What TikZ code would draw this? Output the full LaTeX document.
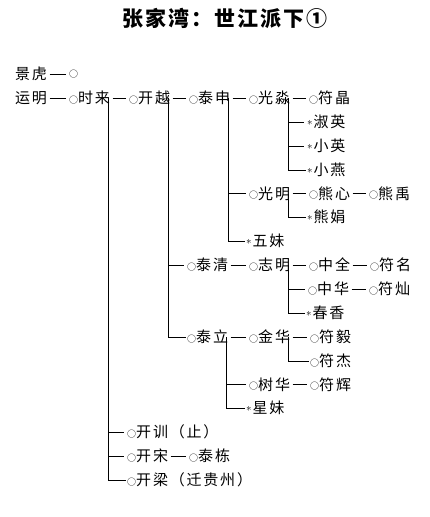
\documentclass[tikz,border=0pt]{standalone}
\usepackage{fontspec}
\newfontfamily\namefont{Noto Sans CJK SC}[LetterSpace=12]
\newfontfamily\titlefont{Noto Sans CJK SC}[LetterSpace=10]
\newcommand{\ring}{\raisebox{0.5pt}{\fontsize{9}{9}\selectfont ○}}
\newcommand{\fem}{\raisebox{2.2pt}{\fontsize{11}{11}\selectfont$\ast$}\hspace{1pt}}

\begin{document}
\begin{tikzpicture}[x=1pt, y=-1pt,
  person/.style={anchor=west, inner sep=1pt, font=\namefont\fontsize{15}{17}\selectfont},
  link/.style={line width=0.7pt, shorten <=1.5pt, shorten >=2pt},
  trunk/.style={line width=0.9pt}
]
\useasboundingbox (0,0) rectangle (430,517);

%% ---- title ----
\node[font=\titlefont\fontsize{21}{23}\selectfont\bfseries] (title) at (225,18) {张家湾：世江派下①};

%% ---- first generations ----
\node[person] (jinghu)    at (14,74)  {景虎};
\node[person] (jinghuo)   at (68,74)  {\ring};
\node[person] (yunming)   at (14,98)  {运明};
\node[person] (shilai)    at (68,98)  {\ring 时来};
\node[person] (kaiyue)    at (128,98) {\ring 开越};

%% ---- taishen branch ----
\node[person] (taishen)   at (188,98)    {\ring 泰申};
\node[person] (guangmiao) at (248,98)    {\ring 光淼};
\node[person] (fujing)    at (308,98)    {\ring 符晶};
\node[person] (shuying)   at (306,122)   {\fem 淑英};
\node[person] (xiaoying)  at (306,146)   {\fem 小英};
\node[person] (xiaoyan)   at (306,170)   {\fem 小燕};
\node[person] (guangming) at (248,193.5) {\ring 光明};
\node[person] (xiongxin)  at (308,193.5) {\ring 熊心};
\node[person] (xiongyu)   at (368,193.5) {\ring 熊禹};
\node[person] (xiongjuan) at (306,217)   {\fem 熊娟};
\node[person] (wumei)     at (245,241)   {\fem 五妹};

%% ---- taiqing branch ----
\node[person] (taiqing)   at (186,265) {\ring 泰清};
\node[person] (zhiming)   at (248,265) {\ring 志明};
\node[person] (zhongquan) at (308,265) {\ring 中全};
\node[person] (fuming)    at (369,265) {\ring 符名};
\node[person] (zhonghua)  at (307,289) {\ring 中华};
\node[person] (fucan)     at (368,289) {\ring 符灿};
\node[person] (chunxiang) at (305,313) {\fem 春香};

%% ---- taili branch ----
\node[person] (taili)   at (186,337)   {\ring 泰立};
\node[person] (jinhua)  at (248,337)   {\ring 金华};
\node[person] (fuyi)    at (309,337)   {\ring 符毅};
\node[person] (fujie)   at (309,361)   {\ring 符杰};
\node[person] (shuhua)  at (248,384.5) {\ring 树华};
\node[person] (fuhui)   at (309,384.5) {\ring 符辉};
\node[person] (xingmei) at (245,408)   {\fem 星妹};

%% ---- other sons of shilai ----
\node[person] (kaixun)   at (126,432) {\ring 开训（止）};
\node[person] (kaisong)  at (126,456) {\ring 开宋};
\node[person] (taidong)  at (188,456) {\ring 泰栋};
\node[person] (kailiang) at (126,480) {\ring 开梁（迁贵州）};

%% ---- trunk points ----
\coordinate (shilaiT)    at ([xshift=-3pt]shilai.east);
\coordinate (kaiyueT)    at ([xshift=-3pt]kaiyue.east);
\coordinate (taishenT)   at ([xshift=-3pt]taishen.east);
\coordinate (guangmiaoT) at ([xshift=-3pt]guangmiao.east);
\coordinate (guangmingT) at ([xshift=-3pt]guangming.east);
\coordinate (zhimingT)   at ([xshift=-3pt]zhiming.east);
\coordinate (tailiT)     at ([xshift=-3pt]taili.east);
\coordinate (jinhuaT)    at ([xshift=-3pt]jinhua.east);

%% ---- same-row links ----
\draw[link] (jinghu.east)    -- (jinghuo.west);
\draw[link] (yunming.east)   -- (shilai.west);
\draw[link] (shilai.east)    -- (kaiyue.west);
\draw[link] (kaiyue.east)    -- (taishen.west);
\draw[link] (taishen.east)   -- (guangmiao.west);
\draw[link] (guangmiao.east) -- (fujing.west);
\draw[link] (guangming.east) -- (xiongxin.west);
\draw[link] (xiongxin.east)  -- (xiongyu.west);
\draw[link] (taiqing.east)   -- (zhiming.west);
\draw[link] (zhiming.east)   -- (zhongquan.west);
\draw[link] (zhongquan.east) -- (fuming.west);
\draw[link] (zhonghua.east)  -- (fucan.west);
\draw[link] (taili.east)     -- (jinhua.west);
\draw[link] (jinhua.east)    -- (fuyi.west);
\draw[link] (shuhua.east)    -- (fuhui.west);
\draw[link] (kaisong.east)   -- (taidong.west);

%% ---- trunks ----
\draw[trunk] (shilaiT) |- (kailiang.west);
\draw[link, shorten <=0pt] (shilaiT |- kaixun.west)  -- (kaixun.west);
\draw[link, shorten <=0pt] (shilaiT |- kaisong.west) -- (kaisong.west);

\draw[trunk] (kaiyueT) |- (taili.west);
\draw[link, shorten <=0pt] (kaiyueT |- taiqing.west) -- (taiqing.west);

\draw[trunk] (taishenT) |- (wumei.west);
\draw[link, shorten <=0pt] (taishenT |- guangming.west) -- (guangming.west);

\draw[trunk] (guangmiaoT) |- (xiaoyan.west);
\draw[link, shorten <=0pt] (guangmiaoT |- shuying.west)  -- (shuying.west);
\draw[link, shorten <=0pt] (guangmiaoT |- xiaoying.west) -- (xiaoying.west);

\draw[trunk] (guangmingT) |- (xiongjuan.west);

\draw[trunk] (zhimingT) |- (chunxiang.west);
\draw[link, shorten <=0pt] (zhimingT |- zhonghua.west) -- (zhonghua.west);

\draw[trunk] (tailiT) |- (xingmei.west);
\draw[link, shorten <=0pt] (tailiT |- shuhua.west) -- (shuhua.west);

\draw[trunk] (jinhuaT) |- (fujie.west);
\end{tikzpicture}
\end{document}
